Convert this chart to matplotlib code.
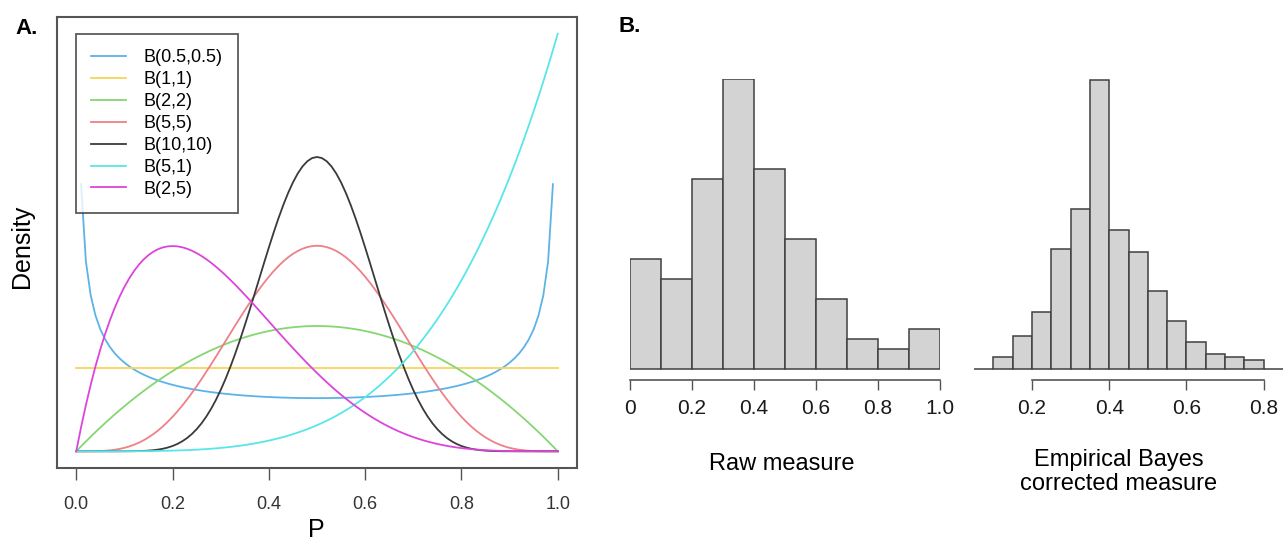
import math
import numpy as np
import matplotlib
matplotlib.use("Agg")
import matplotlib.pyplot as plt
from matplotlib.lines import Line2D

plt.rcParams["font.family"] = ["Liberation Sans", "DejaVu Sans"]

# Panel A: beta distributions, parameters
beta_labels = ["B(0.5,0.5)", "B(1,1)", "B(2,2)", "B(5,5)", "B(10,10)", "B(5,1)", "B(2,5)"]
beta_a = [0.5, 1, 2, 5, 10, 5, 2]
beta_b = [0.5, 1, 2, 5, 10, 1, 5]
beta_colors = ["#5cb3e8", "#f7d65c", "#86d672", "#ee8088", "#3a3a3a", "#58e6ea", "#dc45dc"]
p_ticks = [0.0, 0.2, 0.4, 0.6, 0.8, 1.0]

# Panel B: histogram counts
raw_edges = [0.0, 0.1, 0.2, 0.3, 0.4, 0.5, 0.6, 0.7, 0.8, 0.9, 1.0]
raw_counts = [11, 9, 19, 29, 20, 13, 7, 3, 2, 4]
raw_ticks = [0, 0.2, 0.4, 0.6, 0.8, 1.0]
raw_tick_labels = ["0", "0.2", "0.4", "0.6", "0.8", "1.0"]

eb_edges = [0.05, 0.10, 0.15, 0.20, 0.25, 0.30, 0.35, 0.40, 0.45,
            0.50, 0.55, 0.60, 0.65, 0.70, 0.75, 0.80, 0.85]
eb_counts = [0, 4, 11, 19, 40, 53, 96, 46, 39, 26, 16, 9, 5, 4, 3, 0]
eb_ticks = [0.2, 0.4, 0.6, 0.8]
eb_tick_labels = ["0.2", "0.4", "0.6", "0.8"]

W, H = 1288, 541


def px_axes(fig, left, top, right, bottom):
    return fig.add_axes([left / W, 1 - bottom / H, (right - left) / W, (bottom - top) / H])


def beta_pdf(x, a, b):
    logc = math.lgamma(a + b) - math.lgamma(a) - math.lgamma(b)
    with np.errstate(divide="ignore", invalid="ignore"):
        y = np.exp(logc) * x ** (a - 1) * (1 - x) ** (b - 1)
    return np.where(np.isfinite(y), y, np.nan)


fig = plt.figure(figsize=(W / 100, H / 100), dpi=100)

# ---- Panel A ----
axA = px_axes(fig, 57, 17, 577, 468)
p = np.linspace(0, 1, 101)
handles = []
for lab, a, b, c in zip(beta_labels, beta_a, beta_b, beta_colors):
    axA.plot(p, beta_pdf(p, a, b), color=c, lw=1.3)
    handles.append(Line2D([], [], color=c, lw=1.3, label=lab))
axA.set_xlim(-0.04, 1.04)
axA.set_ylim(-0.2, 5.2)
axA.set_yticks([])
axA.set_xticks(p_ticks)
axA.set_xticklabels([f"{t:.1f}" for t in p_ticks])
axA.tick_params(axis="x", direction="out", length=8.5, width=1.0, color="#555555",
                pad=12, labelsize=13, labelcolor="#333333")
for s in axA.spines.values():
    s.set_color("#555555")
    s.set_linewidth(1.5)

leg = axA.legend(handles=handles, loc="upper left", bbox_to_anchor=(0.0365, 0.962),
                 borderaxespad=0, fontsize=13, frameon=True, fancybox=False,
                 handlelength=1.9, handletextpad=1.0, labelspacing=0.27,
                 borderpad=0.85)
leg.get_frame().set_edgecolor("#333333")
leg.get_frame().set_linewidth(1.3)

fig.text(22 / W, 1 - 246 / H, "Density", rotation=90, ha="center", va="center", fontsize=18)
fig.text(316 / W, 1 - 530 / H, "P", ha="center", va="center", fontsize=18)
fig.text(15 / W, 1 - 29 / H, "A.", ha="left", va="center", fontsize=16, fontweight="bold")
fig.text(618 / W, 1 - 27 / H, "B.", ha="left", va="center", fontsize=16, fontweight="bold")


# ---- Panel B ----
def hist_panel(ax, edges, counts, ticks, tick_labels, lo, hi):
    widths = np.diff(edges)
    ax.bar(edges[:-1], counts, width=widths, align="edge", color="#d3d3d3",
           edgecolor="#404040", linewidth=1.1)
    for side in ["top", "right", "left"]:
        ax.spines[side].set_visible(False)
    ax.spines["bottom"].set_bounds(lo, hi)
    ax.spines["bottom"].set_color("#555555")
    ax.spines["bottom"].set_linewidth(1.2)
    ax.set_yticks([])
    ax.set_xticks(ticks)
    ax.set_xticklabels(tick_labels)
    ax.tick_params(axis="x", direction="out", length=7.5, width=1.0, color="#555555",
                   pad=6, labelsize=15, labelcolor="#1a1a1a")


axR = px_axes(fig, 630, 79, 940, 380)
hist_panel(axR, raw_edges, raw_counts, raw_ticks, raw_tick_labels, 0, 1)
axR.set_xlim(0, 1)
axR.set_ylim(-1.1, 29)

axE = px_axes(fig, 974, 79, 1283, 380)
hist_panel(axE, eb_edges, eb_counts, eb_ticks, eb_tick_labels, 0.2, 0.8)
axE.set_xlim(0.05, 0.85)
axE.set_ylim(-3.65, 96.3)

fig.text(782 / W, 1 - 464 / H, "Raw measure", ha="center", va="center", fontsize=17)
fig.text(1119 / W, 1 - 472 / H, "Empirical Bayes\ncorrected measure", ha="center",
         va="center", fontsize=17, linespacing=1.1)

fig.savefig("out.png", dpi=100)
